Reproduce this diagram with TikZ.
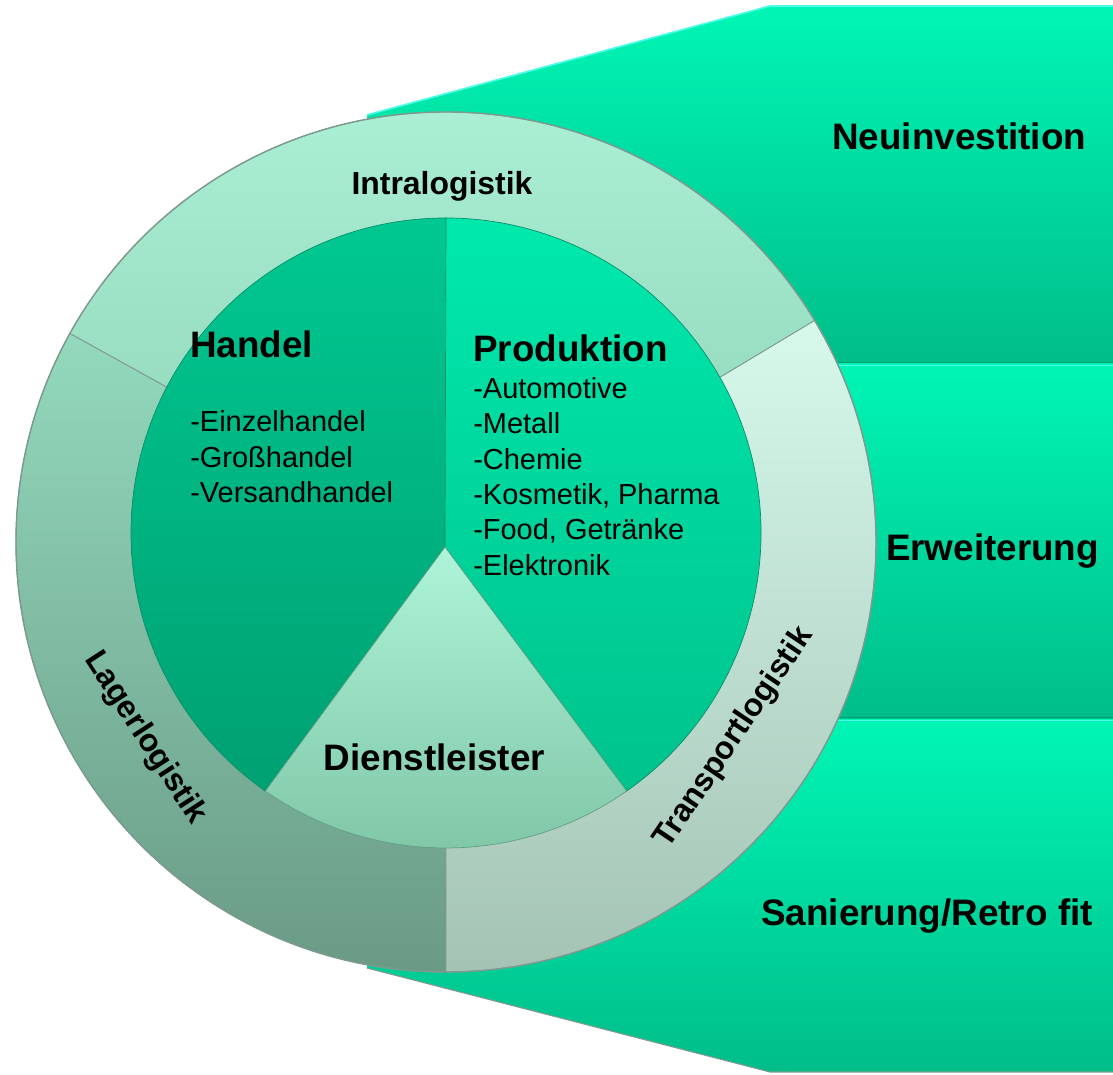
\documentclass[tikz,border=0pt]{standalone}
\usepackage{fontspec}
\setmainfont{Liberation Sans}
\usetikzlibrary{positioning}

\definecolor{panelTop}{HTML}{00F6B5}
\definecolor{panelBot}{HTML}{00BD89}
\definecolor{panelHi}{HTML}{4DFBE6}
\definecolor{panelLow}{HTML}{079C76}
\definecolor{intraTop}{HTML}{AEF3D8}
\definecolor{intraBot}{HTML}{8ED3B6}
\definecolor{lagerTop}{HTML}{93D9BD}
\definecolor{lagerBot}{HTML}{6A9A85}
\definecolor{transTop}{HTML}{D6F9EB}
\definecolor{transBot}{HTML}{A4C3B5}
\definecolor{handelTop}{HTML}{00C891}
\definecolor{handelBot}{HTML}{00A071}
\definecolor{prodTop}{HTML}{00E9AD}
\definecolor{prodBot}{HTML}{00C28C}
\definecolor{dienstTop}{HTML}{ADF4D8}
\definecolor{dienstBot}{HTML}{7EC5A6}
\definecolor{ringEdge}{HTML}{7E9A90}
\definecolor{pieEdge}{HTML}{0C8E6A}

\begin{document}
\begin{tikzpicture}[
x=0.025cm,
y=0.025cm,
panel/.style={
  top color=panelTop,
  bottom color=panelBot,
  draw=none
  },
ring/.style={
  draw=ringEdge,
  line width=0.6pt
  },
pie/.style={
  draw=pieEdge,
  line width=0.5pt
  },
bigtext/.style={
  font=\fontsize{26.2}{30}\selectfont\bfseries,
  inner sep=0pt
  },
ringtext/.style={
  font=\fontsize{22.7}{27}\selectfont\bfseries,
  inner sep=0pt
  },
listtext/.style={
  font=\fontsize{20.6}{25}\selectfont,
  inner sep=0pt,
  anchor=base west
  },
>=latex
]
\useasboundingbox (0,0) rectangle (1113,1075);

\coordinate (C) at (446,533); % ring
\coordinate (P) at (446,542); % pie
\coordinate (A) at (445,528); % apex

% panels
\shade[panel] (367,960) -- (770,1069) -- (1113,1069) -- (1113,711) -- (367,711) -- cycle;
\shade[panel] (367,711) -- (1113,711) -- (1113,356) -- (367,356) -- cycle;
\shade[panel] (367,356) -- (1113,356) -- (1113,3) -- (770,3) -- (367,107) -- cycle;

\foreach \py in {711,356}
{
  \draw[panelLow, line width=1.2pt] (367,\py+1.5) -- (1113,\py+1.5);
  \draw[panelHi, line width=1.2pt] (367,\py-1.5) -- (1113,\py-1.5);
}
\draw[panelHi, line width=1.2pt] (367,960) -- (770,1069) -- (1113,1069);
\draw[ringEdge, line width=0.8pt] (367,107) -- (770,3) -- (1113,3);

% outer ring
\foreach \a/\b/\ct/\cb in {31/151/intraTop/intraBot, 151/270/lagerTop/lagerBot, 270/391/transTop/transBot}
  \shadedraw[ring, top color=\ct, bottom color=\cb] (C) -- ++(\a:430) arc[start angle=\a, end angle=\b, radius=430] -- cycle;
\draw[ringEdge, line width=1pt] (C) circle[radius=430];

% inner pie
\shadedraw[pie, top color=handelTop, bottom color=handelBot] (A) -- ([shift={(90:315)}]P) arc[start angle=90, end angle=235, radius=315] -- cycle;
\shadedraw[pie, top color=prodTop, bottom color=prodBot] (A) -- ([shift={(305:315)}]P) arc[start angle=305, end angle=450, radius=315] -- cycle;
\shadedraw[pie, draw=dienstBot!80!black, top color=dienstTop, bottom color=dienstBot] (A) -- ([shift={(235:315)}]P) arc[start angle=235, end angle=305, radius=315] -- cycle;

% ring labels
\node[ringtext, anchor=base] (intra) at (442,880) {Intralogistik};
\node[ringtext, rotate=-57] (lager) at (145,337) {Lagerlogistik};
\node[ringtext, rotate=56] (trans) at (734,337) {Transportlogistik};

% sectors
\node[bigtext, anchor=base west] (handel) at (190,717) {Handel};
\foreach \entry [count=\i] in {Einzelhandel, Großhandel, Versandhandel}
  \node[listtext] (h\i) at (190,{643.3-35.4*(\i-1)}) {-\entry};

\node[bigtext, anchor=base west] (prod) at (473,713.3) {Produktion};
\foreach \entry [count=\i] in {Automotive, Metall, Chemie, {Kosmetik, Pharma}, {Food, Getränke}, Elektronik}
  \node[listtext] (p\i) at (473,{676.7-35.4*(\i-1)}) {-\entry};

\node[bigtext, anchor=base] (dienst) at (434.5,304.3) {Dienstleister};

% panel labels
\node[bigtext, anchor=base] (neu) at (959.3,925.7) {Neuinvestition};
\node[bigtext, anchor=base] (erw) at (992.5,514) {Erweiterung};
\node[bigtext, anchor=base] (san) at (927,149) {Sanierung/Retro fit};
\end{tikzpicture}
\end{document}
